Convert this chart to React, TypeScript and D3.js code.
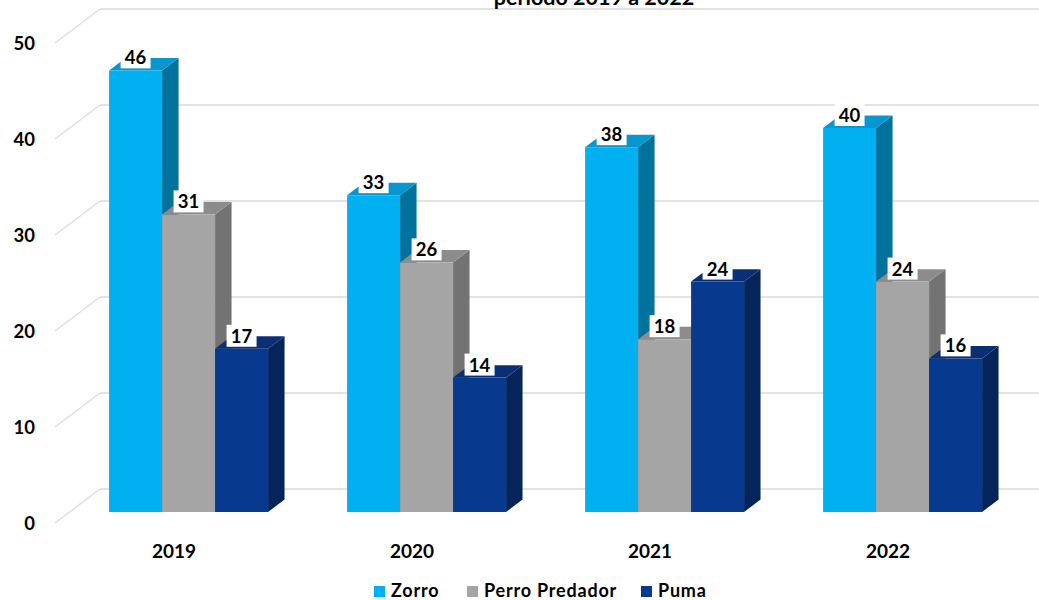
import React from 'react';
import * as d3 from 'd3';

const categories = ['2019', '2020', '2021', '2022'];
const seriesNames = ['Zorro', 'Perro Predador', 'Puma'];
const zorro = [46, 33, 38, 40];
const perro = [31, 26, 18, 24];
const puma = [17, 14, 24, 16];
const yTicks = [0, 10, 20, 30, 40, 50];
const titleText = 'periodo 2019 a 2022';

const frontColors = ['#00B0F0', '#A5A5A5', '#073A8E'];
const topColors = ['#0796CE', '#8C8C8C', '#0A2F74'];
const sideColors = ['#00729C', '#737373', '#05245A'];

const W = 1039;
const H = 600;
const FONT = 'Lato, "Open Sans", sans-serif';
const DEPTH_X = 45;
const DEPTH_Y = -34;
const D_FRONT = 0.324;
const D_BACK = 0.69;

export default function App() {
  const seriesValues = [zorro, perro, puma];
  const y = d3.scaleLinear().domain([0, 50]).range([523, 43]);
  const x0 = d3.scaleBand<string>().domain(categories).range([55, 1007]).paddingInner(0.332).paddingOuter(0.166);
  const x1 = d3.scaleBand<string>().domain(seriesNames).range([0, x0.bandwidth()]);
  const proj = (x: number, v: number, d: number): [number, number] => [x + d * DEPTH_X, y(v) + d * DEPTH_Y];
  const pts = (arr: [number, number][]) => arr.map((p) => p.join(',')).join(' ');
  const [xMin, xMax] = x0.range();

  const bars: React.ReactNode[] = [];
  const labels: React.ReactNode[] = [];
  categories.forEach((c, ci) => {
    seriesNames.forEach((s, si) => {
      const v = seriesValues[si][ci];
      const xl = (x0(c) as number) + (x1(s) as number);
      const xr = xl + x1.bandwidth();
      const side = pts([proj(xr, v, D_FRONT), proj(xr, 0, D_FRONT), proj(xr, 0, D_BACK), proj(xr, v, D_BACK)]);
      const top = pts([proj(xl, v, D_FRONT), proj(xr, v, D_FRONT), proj(xr, v, D_BACK), proj(xl, v, D_BACK)]);
      const front = pts([proj(xl, v, D_FRONT), proj(xr, v, D_FRONT), proj(xr, 0, D_FRONT), proj(xl, 0, D_FRONT)]);
      bars.push(
        <g key={`b-${c}-${s}`}>
          <polygon points={side} fill={sideColors[si]} />
          <polygon points={top} fill={topColors[si]} />
          <polygon points={front} fill={frontColors[si]} />
        </g>
      );
      const [cx, ty] = proj((xl + xr) / 2, v, D_FRONT);
      labels.push(
        <g key={`l-${c}-${s}`}>
          <rect x={cx - 15} y={ty - 24} width={30} height={22} fill="#ffffff" />
          <text x={cx} y={ty - 13} textAnchor="middle" dominantBaseline="central" fontFamily={FONT} fontWeight={700} fontSize={18.5} fill="#000">
            {v}
          </text>
        </g>
      );
    });
  });

  const legendItems = [
    { name: seriesNames[0], sx: 374, tx: 391 },
    { name: seriesNames[1], sx: 467, tx: 484 },
    { name: seriesNames[2], sx: 641, tx: 658 },
  ];

  return (
    <svg width={W} height={H} style={{ position: 'absolute', left: 0, top: 0, background: '#fff' }}>
      <rect x={0} y={0} width={W} height={H} fill="#fff" />
      {/* gridlines */}
      {yTicks.map((t) => {
        const a = proj(xMin, t, 0);
        const b = proj(xMin, t, 1);
        const e = proj(xMax, t, 1);
        return (
          <g key={`g-${t}`}>
            <line x1={a[0]} y1={a[1]} x2={b[0]} y2={b[1]} stroke="#dedede" strokeWidth={1.5} />
            <line x1={b[0]} y1={b[1]} x2={e[0]} y2={e[1]} stroke="#e2e2e2" strokeWidth={2} />
          </g>
        );
      })}
      {/* y axis labels */}
      {yTicks.map((t) => (
        <text key={`yt-${t}`} x={35} y={y(t)} textAnchor="end" dominantBaseline="central" fontFamily={FONT} fontWeight={700} fontSize={18.5} fill="#000">
          {t}
        </text>
      ))}
      {bars}
      {labels}
      {/* category labels */}
      {categories.map((c) => (
        <text key={`c-${c}`} x={(x0(c) as number) + x0.bandwidth() / 2} y={550} textAnchor="middle" dominantBaseline="central" fontFamily={FONT} fontWeight={700} fontSize={19} fill="#000">
          {c}
        </text>
      ))}
      {/* title (cropped) */}
      <text x={594} y={5} textAnchor="middle" fontFamily={FONT} fontWeight={700} fontSize={21.5} fill="#000">
        {titleText}
      </text>
      {/* legend */}
      {legendItems.map((it, i) => (
        <g key={`lg-${i}`}>
          <rect x={it.sx} y={586} width={11} height={11} fill={frontColors[i]} />
          <text x={it.tx} y={597} fontFamily={FONT} fontWeight={700} fontSize={18} letterSpacing={0.8} fill="#000">
            {it.name}
          </text>
        </g>
      ))}
    </svg>
  );
}
